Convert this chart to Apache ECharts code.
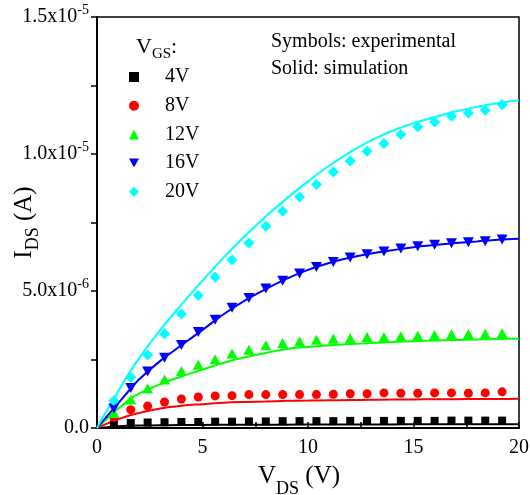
<!DOCTYPE html>
<html>
<head>
<meta charset="utf-8">
<script src="https://cdn.jsdelivr.net/npm/echarts@6/dist/echarts.min.js"></script>
<style>
html,body{margin:0;padding:0;background:#fff;}
#c{width:530px;height:495px;}
</style>
</head>
<body>
<div id="c"></div>
<script>
// ---- data (I_DS in units of 1e-6 A) ----
var vdsExp = [0.8,1.6,2.4,3.2,4.0,4.8,5.6,6.4,7.2,8.0,8.8,9.6,10.4,11.2,12.0,12.8,13.6,14.4,15.2,16.0,16.8,17.6,18.4,19.2];
var exp4V  = [0.13,0.18,0.20,0.21,0.22,0.22,0.23,0.23,0.24,0.24,0.25,0.25,0.25,0.25,0.26,0.26,0.26,0.26,0.26,0.26,0.27,0.27,0.27,0.27];
var exp8V  = [0.38,0.67,0.80,0.95,1.06,1.13,1.17,1.18,1.22,1.22,1.22,1.22,1.22,1.23,1.25,1.25,1.28,1.27,1.27,1.28,1.28,1.27,1.28,1.32];
var exp12V = [0.55,1.04,1.44,1.77,2.08,2.31,2.51,2.72,2.86,3.02,3.10,3.16,3.22,3.26,3.28,3.32,3.32,3.35,3.37,3.39,3.41,3.43,3.44,3.46];
var exp16V = [0.71,1.46,2.06,2.56,3.03,3.50,3.95,4.39,4.74,5.09,5.37,5.64,5.88,6.06,6.22,6.34,6.44,6.55,6.63,6.69,6.74,6.78,6.82,6.88];
var exp20V = [1.00,1.85,2.66,3.44,4.16,4.84,5.51,6.13,6.75,7.36,7.91,8.43,8.89,9.34,9.74,10.10,10.38,10.71,10.99,11.17,11.38,11.50,11.60,11.80];

var vdsSim = [0,0.5,1,1.5,2,3,4,5,6,7,8,9,10,11,12,13,14,15,16,17,18,19,20];
var sim4V  = [0,0.03,0.06,0.08,0.09,0.10,0.11,0.11,0.12,0.12,0.12,0.12,0.13,0.13,0.13,0.13,0.13,0.14,0.14,0.14,0.14,0.14,0.14];
var sim8V  = [0,0.17,0.32,0.45,0.55,0.71,0.81,0.87,0.92,0.95,0.97,0.99,1.00,1.01,1.02,1.03,1.04,1.04,1.05,1.05,1.06,1.06,1.07];
var sim12V = [0,0.36,0.70,1.01,1.26,1.60,1.88,2.13,2.38,2.58,2.74,2.88,2.96,3.02,3.07,3.10,3.14,3.17,3.19,3.21,3.23,3.25,3.26];
var sim16V = [0,0.45,0.90,1.35,1.78,2.45,3.02,3.58,4.15,4.65,5.07,5.45,5.77,6.02,6.22,6.37,6.49,6.60,6.68,6.75,6.81,6.87,6.91];
var sim20V = [0,0.68,1.33,1.97,2.55,3.58,4.50,5.38,6.22,7.00,7.72,8.38,9.00,9.57,10.07,10.50,10.85,11.12,11.35,11.55,11.72,11.86,11.95];

var seriesNames = ['4V','8V','12V','16V','20V'];
var seriesColors = ['#000000','#ff0000','#00ff00','#0000ff','#00ffff'];
var expData = [exp4V, exp8V, exp12V, exp16V, exp20V];
var simData = [sim4V, sim8V, sim12V, sim16V, sim20V];

var xTicks = [0,5,10,15,20];
var yTickBase = ['0.0','5.0x10','1.0x10','1.5x10'];
var yTickExp  = ['','-6','-5','-5'];

var FONT = '"Liberation Serif", "Times New Roman", serif';
var DOWN_TRI = 'path://M0,0 L10,0 L5,9 Z';

function pairs(xs, ys){ return xs.map(function(x,i){ return [x, ys[i]]; }); }

var symbols = [
  {symbol:'rect', size:[8,8], legend:'rect'},
  {symbol:'circle', size:9, legend:'circle'},
  {symbol:'triangle', size:[11,10], legend:'triangle'},
  {symbol:DOWN_TRI, size:[11,10], legend:DOWN_TRI},
  {symbol:'diamond', size:[11,11], legend:'diamond'}
];

var series = [];
for (var i = 0; i < seriesNames.length; i++) {
  series.push({
    name: seriesNames[i] + ' sim', type:'line', data: pairs(vdsSim, simData[i]),
    smooth: 0.4, showSymbol:false, symbol:'none',
    lineStyle:{color: seriesColors[i], width:2}, silent:true, z:2
  });
}
for (var j = 0; j < seriesNames.length; j++) {
  series.push({
    name: seriesNames[j], type:'scatter', data: pairs(vdsExp, expData[j]),
    symbol: symbols[j].symbol, symbolSize: symbols[j].size,
    itemStyle:{color: seriesColors[j], opacity:1}, z:3
  });
}

var chart = echarts.init(document.getElementById('c'), null, {renderer:'canvas'});
chart.setOption({
  animation:false,
  backgroundColor:'#fff',
  grid:{left:97, right:11, top:17, bottom:67, show:true, borderColor:'#000', borderWidth:1.5,
        backgroundColor:'transparent', containLabel:false, outerBoundsMode:'none'},
  xAxis:{
    type:'value', min:0, max:20, interval:5,
    axisLine:{show:true, onZero:false, lineStyle:{color:'#000', width:2}},
    axisTick:{show:true, inside:true, length:6, lineStyle:{color:'#000', width:1.5}},
    minorTick:{show:true, splitNumber:2, length:6, lineStyle:{color:'#000', width:1.5}},
    splitLine:{show:false},
    axisLabel:{margin:10, color:'#000', fontFamily:FONT, fontSize:20,
      formatter:function(v){ var k = xTicks.indexOf(v); return k>=0 ? String(xTicks[k]) : ''; }},
    name:'{m|V}{s|DS}{m| (V)}', nameLocation:'middle', nameGap:26, nameMoveOverlap:false,
    nameTextStyle:{color:'#000', fontFamily:FONT, padding:[0,18,0,0], rich:{
      m:{fontSize:25, fontFamily:FONT, color:'#000'},
      s:{fontSize:18, fontFamily:FONT, color:'#000', padding:[26,0,0,0]}
    }}
  },
  yAxis:{
    type:'value', min:0, max:15, interval:5,
    axisLine:{show:true, onZero:false, lineStyle:{color:'#000', width:2}},
    axisTick:{show:true, inside:false, length:6, lineStyle:{color:'#000', width:1.5}},
    minorTick:{show:true, splitNumber:2, length:6, lineStyle:{color:'#000', width:1.5}},
    splitLine:{show:false},
    axisLabel:{margin:8, color:'#000', fontFamily:FONT,
      formatter:function(v){
        var k = Math.round(v/5);
        if (yTickExp[k] === '') return '{b|' + yTickBase[k] + '}';
        return '{b|' + yTickBase[k] + '}{s|' + yTickExp[k] + '}';
      },
      rich:{
        b:{fontSize:20, fontFamily:FONT, color:'#000'},
        s:{fontSize:14, fontFamily:FONT, color:'#000', padding:[0,0,14,0]}
      }
    },
    name:'{m|I}{s|DS}{m| (A)}', nameLocation:'middle', nameGap:55, nameRotate:90, nameMoveOverlap:false,
    nameTextStyle:{color:'#000', fontFamily:FONT, rich:{
      m:{fontSize:25, fontFamily:FONT, color:'#000'},
      s:{fontSize:18, fontFamily:FONT, color:'#000', padding:[18,0,0,0]}
    }}
  },
  legend:{
    data: seriesNames.map(function(n, k){ return {name:n, icon: symbols[k].legend}; }),
    orient:'vertical', left:124, top:62,
    itemWidth:10, itemHeight:10, itemGap:8.7, symbolKeepAspect:true,
    formatter:function(n){ return '{p|}{n|' + n + '}'; },
    textStyle:{color:'#000', fontFamily:FONT, fontSize:20, rich:{
      p:{width:21}, n:{fontSize:20, fontFamily:FONT, color:'#000'}
    }},
    selectedMode:false
  },
  title:[
    {text:'{m|V}{s|GS}{m|:}', left:131, top:28, textStyle:{fontFamily:FONT, color:'#000', fontWeight:'normal', rich:{
      m:{fontSize:22, fontFamily:FONT, color:'#000'},
      s:{fontSize:15, fontFamily:FONT, color:'#000', padding:[14,0,0,0]}
    }}},
    {text:'Symbols: experimental', left:266, top:27, textStyle:{fontFamily:FONT, fontSize:20, fontWeight:'normal', color:'#000'}},
    {text:'Solid: simulation', left:266, top:54, textStyle:{fontFamily:FONT, fontSize:20, fontWeight:'normal', color:'#000'}}
  ],
  series: series
});
</script>
</body>
</html>
